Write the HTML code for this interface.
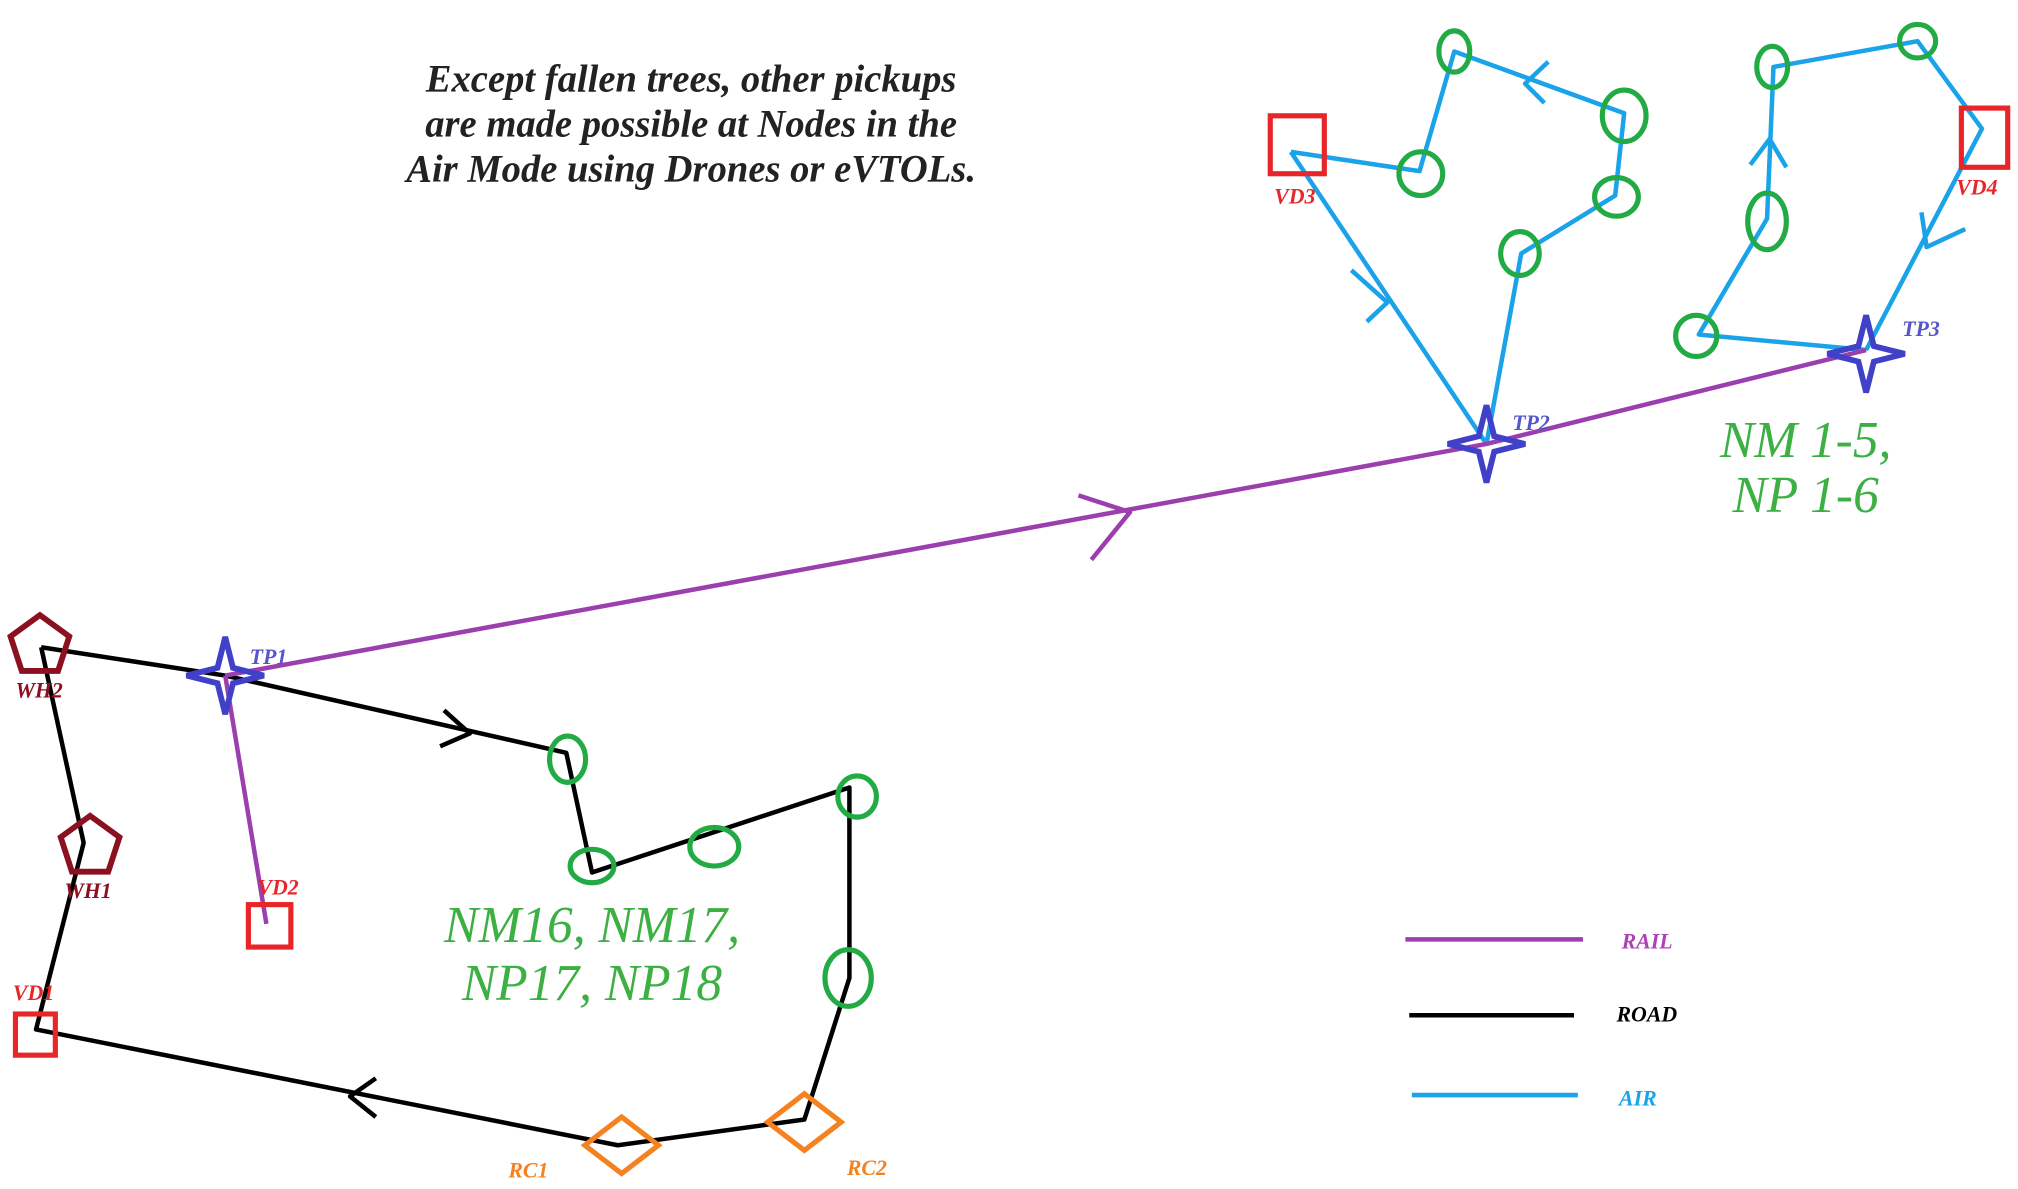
<!DOCTYPE html>
<html><head><meta charset="utf-8">
<style>
html,body{margin:0;padding:0;background:#fff;}
svg{display:block;}
text{font-family:"Liberation Serif",serif;font-style:italic;}
</style></head>
<body>
<svg id="map" width="2018" height="1189" viewBox="0 0 1568 924" preserveAspectRatio="none" xmlns="http://www.w3.org/2000/svg">
<rect width="1568" height="924" fill="#fff"/>
<g font-size="30" font-weight="bold" fill="#222" text-anchor="middle">
<text x="537" y="71">Except fallen trees, other pickups</text>
<text x="537" y="106">are made possible at Nodes in the</text>
<text x="537" y="141">Air Mode using Drones or eVTOLs.</text>
</g>
<g id="layer"></g>
<g font-size="17" font-weight="bold">
<line x1="1092" y1="730" x2="1230" y2="730" stroke="#9b3fae" stroke-width="3.5"/>
<text x="1260" y="737" fill="#b040b8">RAIL</text>
<line x1="1095" y1="789" x2="1223" y2="789" stroke="#000" stroke-width="3.5"/>
<text x="1256" y="794" fill="#000">ROAD</text>
<line x1="1097" y1="851" x2="1226" y2="851" stroke="#1aa3e8" stroke-width="3.5"/>
<text x="1258" y="859" fill="#1aa3e8">AIR</text>
</g>
<g font-size="40" fill="#3cb043" text-anchor="middle">
<text x="460" y="732">NM16, NM17,</text>
<text x="460" y="777">NP17, NP18</text>
<text x="1403" y="355">NM 1-5,</text>
<text x="1403" y="398">NP 1-6</text>
</g>
</svg>
<script>
const railPath = [[175,525],[1155,345],[1450,272]];
const railSpur = [[175,525],[207,718]];
const roadPath = [[32,503],[175,525],[440,585],[460,678],[660,612],[660,760],[625,870],[480,890],[28,800],[65,655],[32,503]];
const airPaths = [
 [[1003,118],[1103,133],[1130,40],[1262,88],[1255,152],[1182,197],[1155,345]],
 [[1003,118],[1155,345]],
 [[1450,272],[1320,260],[1373,170],[1378,52],[1490,32],[1540,100],[1450,272]]
];
const arrows = [
 {c:"#9b3fae",pts:[[838,385],[878,398],[848,435]]},
 {c:"#000",pts:[[345,552],[365,570],[342,580]]},
 {c:"#000",pts:[[292,838],[272,852],[292,868]]},
 {c:"#1aa3e8",pts:[[1050,210],[1078,235],[1062,250]]},
 {c:"#1aa3e8",pts:[[1203,48],[1185,65],[1200,80]]},
 {c:"#1aa3e8",pts:[[1360,128],[1375,108],[1388,130]]},
 {c:"#1aa3e8",pts:[[1493,165],[1497,192],[1527,178]]}
];
const greenNodes = [[441,590,14,18],[460,673,17,13],[555,658,19,15],[666,619,15,16],[659,760,18,22],[1130,40,12,16],[1262,90,17,20],[1104,135,17,17],[1256,153,17,15],[1181,197,15,17],[1377,52,12,16],[1490,32,14,13],[1373,172,15,22],[1318,261,16,16]];
const depots = [["VD1",12,788,31,32,10,777],["VD2",193,703,33,33,200,695],["VD3",987,90,42,45,990,158],["VD4",1524,84,36,46,1520,151]];
const transfers = [["TP1",175,525,194,516],["TP2",1155,345,1175,334],["TP3",1450,275,1478,261]];
const warehouses = [["WH1",70,658,50,698],["WH2",31,502,12,542]];
const recycles = [["RC1",483,890,395,915],["RC2",625,872,658,913]];

const NS="http://www.w3.org/2000/svg";
const layer=document.getElementById('layer');
function mk(tag,attrs){const e=document.createElementNS(NS,tag);for(const k in attrs)e.setAttribute(k,attrs[k]);layer.appendChild(e);return e;}
function poly(pts,color){return mk('polyline',{points:pts.map(p=>p.join(',')).join(' '),fill:'none',stroke:color,'stroke-width':3.5,'stroke-linejoin':'round'});}
function label(t,x,y,color){const e=mk('text',{x:x,y:y,fill:color,'font-size':17,'font-weight':'bold'});e.textContent=t;return e;}

const road=poly(roadPath,'#000');


airPaths.forEach((p,i)=>{const e=poly(p,'#1aa3e8');

});
const rail=poly(railPath,'#9b3fae');


const spur=poly(railSpur,'#9b3fae');


arrows.forEach(a=>{const e=poly(a.pts,a.c);

});
greenNodes.forEach(n=>{const e=mk('ellipse',{cx:n[0],cy:n[1],rx:n[2],ry:n[3],fill:'none',stroke:'#22aa44','stroke-width':4});

});
depots.forEach(d=>{const e=mk('rect',{x:d[1],y:d[2],width:d[3],height:d[4],fill:'none',stroke:'#e8262a','stroke-width':4});


const t=label(d[0],d[5],d[6],'#e8262a');

});
warehouses.forEach(w=>{const pts=[];for(let i=0;i<5;i++){const a=-Math.PI/2+i*2*Math.PI/5;pts.push([w[1]+24*Math.cos(a),w[2]+24*Math.sin(a)]);}
const e=mk('polygon',{points:pts.map(p=>p.join(',')).join(' '),fill:'none',stroke:'#8b1020','stroke-width':4.5});


const t=label(w[0],w[3],w[4],'#8b1020');

});
recycles.forEach(r=>{const x=r[1],y=r[2],s=22;
const e=mk('polygon',{points:`${x},${y-s} ${x+s*1.3},${y} ${x},${y+s} ${x-s*1.3},${y}`,fill:'none',stroke:'#f58220','stroke-width':4});


const t=label(r[0],r[3],r[4],'#f58220');

});
transfers.forEach(t=>{const x=t[1],y=t[2],R=30,r=6;
const d=`M${x},${y-R} L${x+r},${y-r} L${x+R},${y} L${x+r},${y+r} L${x},${y+R} L${x-r},${y+r} L${x-R},${y} L${x-r},${y-r} Z`;
const e=mk('path',{d:d,fill:'none',stroke:'#4040c8','stroke-width':4.5,'stroke-linejoin':'miter'});


const l=label(t[0],t[3],t[4],'#5555cc');

});
</script>
</body></html>
